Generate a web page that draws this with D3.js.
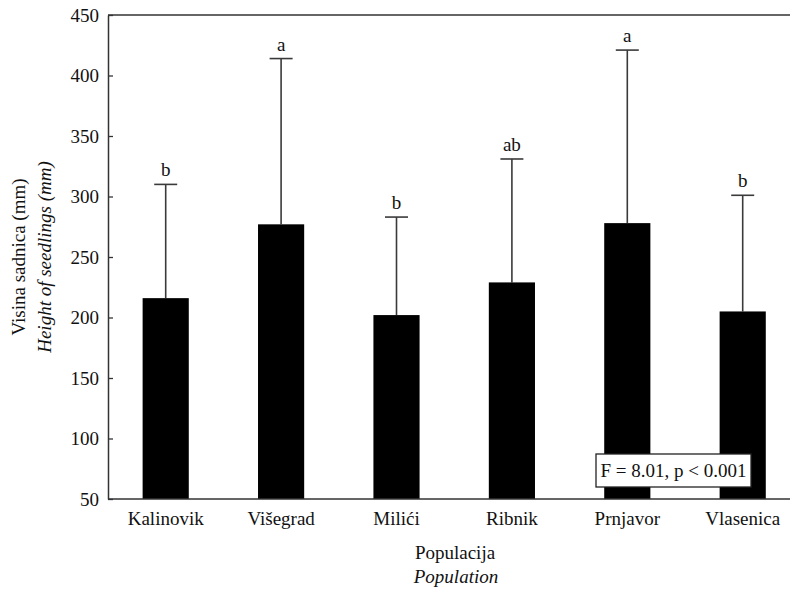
<!DOCTYPE html>
<html>
<head>
<meta charset="utf-8">
<script src="https://cdn.jsdelivr.net/npm/d3@7"></script>
<style>
  html, body { margin: 0; padding: 0; background: #fff; }
  svg { display: block; }
  svg text { font-family: 'Liberation Serif', 'Times New Roman', Times, serif !important; fill: #111; }
</style>
</head>
<body>
<svg id="chart" width="790" height="589"></svg>
<script>
// Seedling height by population: mean, upper error bar end, and group letters
const populations = ["Kalinovik", "Višegrad", "Milići", "Ribnik", "Prnjavor", "Vlasenica"];
const meanHeight = [216, 277, 202, 229, 278, 205];
const upperError = [310, 414, 283, 331, 421, 301];
const groupLetters = ["b", "a", "b", "ab", "a", "b"];
const yTicks = [50, 100, 150, 200, 250, 300, 350, 400, 450];
const statText = "F = 8.01, p < 0.001";

const serif = "'Liberation Serif', 'Times New Roman', Times, serif";
const fs = "19px";
const svg = d3.select("#chart").style("font-family", serif);
const plotLeft = 108, plotTop = 15, plotBottom = 499, plotRight = 790;

const x = d3.scaleBand()
  .domain(populations)
  .range([plotLeft, plotLeft + 6 * 115.4])
  .paddingInner(0.6)
  .paddingOuter(0.3);

const y = d3.scaleLinear().domain([50, 450]).range([plotBottom, plotTop]);

const rows = populations.map((p, i) => ({
  name: p, mean: meanHeight[i], upper: upperError[i], letter: groupLetters[i]
}));

// Error bars (drawn first, bars cover the lower part)
const errG = svg.append("g").attr("stroke", "#3a3a3a").attr("stroke-width", 1.6);
rows.forEach(d => {
  const cx = x(d.name) + x.bandwidth() / 2;
  errG.append("line").attr("x1", cx).attr("x2", cx)
    .attr("y1", y(d.mean)).attr("y2", y(d.upper));
  errG.append("line").attr("x1", cx - 11.5).attr("x2", cx + 11.5)
    .attr("y1", y(d.upper)).attr("y2", y(d.upper));
});

// Bars
svg.append("g").selectAll("rect").data(rows).join("rect")
  .attr("x", d => x(d.name))
  .attr("width", x.bandwidth())
  .attr("y", d => y(d.mean))
  .attr("height", d => y(50) - y(d.mean))
  .attr("fill", "#000");

// Significance letters
svg.append("g").selectAll("text").data(rows).join("text")
  .attr("x", d => x(d.name) + x.bandwidth() / 2)
  .attr("y", d => y(d.upper) - 8)
  .attr("text-anchor", "middle")
  .style("font-size", fs)
  .text(d => d.letter);

// Axes frame lines
const frame = svg.append("g").attr("stroke", "#333").attr("stroke-width", 1.5).attr("fill", "none");
frame.append("line").attr("x1", plotLeft).attr("x2", plotRight).attr("y1", plotTop).attr("y2", plotTop);
frame.append("line").attr("x1", plotLeft).attr("x2", plotRight).attr("y1", plotBottom).attr("y2", plotBottom);

// Y axis with inward ticks
const yAxis = d3.axisLeft(y).tickValues(yTicks).tickSizeInner(-5).tickSizeOuter(0).tickPadding(9);
const yg = svg.append("g").attr("transform", `translate(${plotLeft},0)`).call(yAxis);
yg.attr("font-family", null).attr("font-size", null);
yg.select(".domain").attr("stroke", "#333").attr("stroke-width", 1.5);
yg.selectAll(".tick line").attr("stroke", "#333").attr("stroke-width", 1.3);
yg.selectAll(".tick text").style("font-size", fs).attr("fill", "#111");

// X axis category labels
const xAxis = d3.axisBottom(x).tickSize(0).tickPadding(12.5);
const xg = svg.append("g").attr("transform", `translate(0,${plotBottom})`).call(xAxis);
xg.attr("font-family", null).attr("font-size", null);
xg.select(".domain").remove();
xg.selectAll(".tick text").style("font-size", fs).attr("fill", "#111");

// Axis titles
svg.append("text").attr("x", 455).attr("y", 559).attr("text-anchor", "middle")
  .style("font-size", fs).text("Populacija");
svg.append("text").attr("x", 456).attr("y", 583).attr("text-anchor", "middle")
  .style("font-size", fs).style("font-style", "italic").text("Population");

svg.append("text").attr("transform", "translate(25,257) rotate(-90)")
  .attr("text-anchor", "middle").style("font-size", fs).text("Visina sadnica (mm)");
svg.append("text").attr("transform", "translate(51,257) rotate(-90)")
  .attr("text-anchor", "middle").style("font-size", fs).style("font-style", "italic")
  .text("Height of seedlings (mm)");

// Statistics box
const box = svg.append("g");
box.append("rect").attr("x", 596).attr("y", 454).attr("width", 155).attr("height", 33)
  .attr("fill", "#fff").attr("stroke", "#222").attr("stroke-width", 1.3);
box.append("text").attr("x", 673.5).attr("y", 477).attr("text-anchor", "middle")
  .style("font-size", fs).text(statText);
</script>
</body>
</html>
